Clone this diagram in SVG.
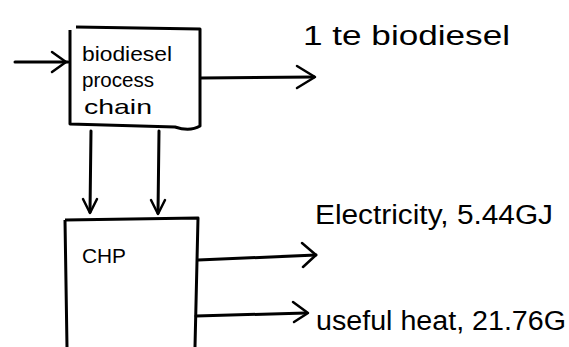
<svg xmlns="http://www.w3.org/2000/svg" width="569" height="347" viewBox="0 0 569 347">
<style>
.box{fill:none;stroke:#000;stroke-width:3;stroke-linejoin:round}
.ln{fill:none;stroke:#000;stroke-width:3;stroke-linecap:round}
.hd{fill:none;stroke:#000;stroke-width:2.5;stroke-linecap:round;stroke-linejoin:round}
text{font-family:"Liberation Sans",Arial,sans-serif;fill:#000}
.in{font-size:21px}
.lb{font-size:27px}
</style>
<rect width="569" height="347" fill="#fff"/>
<g id="biodiesel-process-chain">
<path class="box" d="M76 27 L200 29 L200 126 Q190 132 175 127 L70 124 L70 30"/>
<text class="in" x="82" y="61" textLength="90" lengthAdjust="spacingAndGlyphs">biodiesel</text>
<text class="in" x="82" y="87" textLength="72" lengthAdjust="spacingAndGlyphs">process</text>
<text class="in" x="84" y="114" textLength="68" lengthAdjust="spacingAndGlyphs">chain</text>
</g>
<g id="chp">
<path class="box" d="M65 220 L198 218 L195 347 M65 220 L67 347"/>
<text class="in" x="82" y="263" textLength="44" lengthAdjust="spacingAndGlyphs">CHP</text>
</g>
<g id="connectors">
<path class="ln" d="M15 62 L68 62"/>
<path class="hd" d="M52 52 L66 62 L52 72"/>
<path class="ln" d="M201 78 L314 77"/>
<path class="hd" d="M297 66 L315 77 L297 88"/>
<path class="ln" d="M91 131 L90 212"/>
<path class="hd" d="M83 199 L90 213 L97 199"/>
<path class="ln" d="M159 131 L158 213"/>
<path class="hd" d="M151 200 L158 214 L165 200"/>
<path class="ln" d="M198 260 L316 255"/>
<path class="hd" d="M302 243 L316 255 L303 267"/>
<path class="ln" d="M196 316 L306 313"/>
<path class="hd" d="M293 302 L308 313 L294 322"/>
</g>
<g id="labels">
<text class="lb" x="303" y="45" textLength="207" lengthAdjust="spacingAndGlyphs">1 te biodiesel</text>
<text class="lb" x="315" y="224" textLength="238" lengthAdjust="spacingAndGlyphs">Electricity, 5.44GJ</text>
<text class="lb" x="316" y="330" textLength="250" lengthAdjust="spacingAndGlyphs">useful heat, 21.76G</text>
</g>
</svg>
